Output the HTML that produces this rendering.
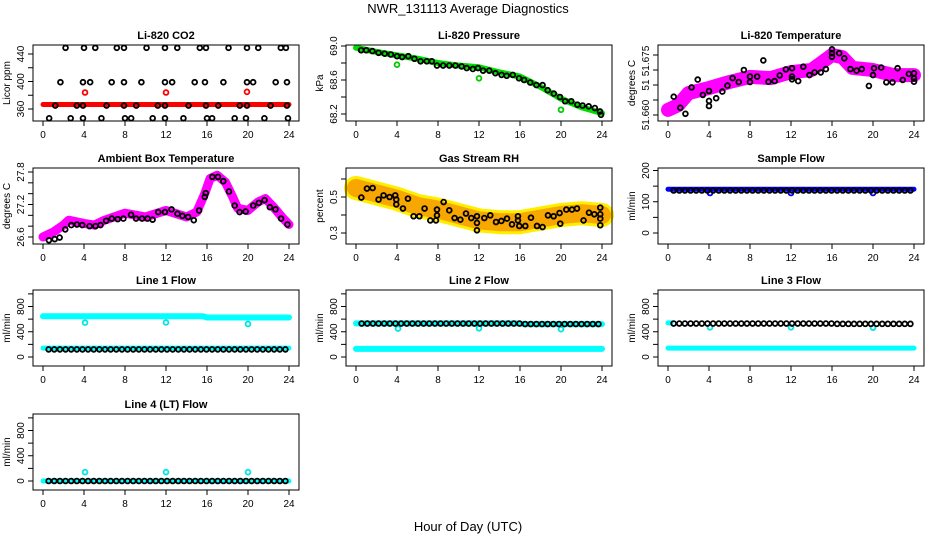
<!DOCTYPE html>
<html><head><meta charset="utf-8"><style>
html,body{margin:0;padding:0;background:#fff}
svg{display:block;font-family:"Liberation Sans",sans-serif}
</style></head><body>
<svg id="chart" width="936" height="540" viewBox="0 0 936 540">
<text x="468" y="13" text-anchor="middle" font-size="13">NWR_131113  Average Diagnostics</text>
<text x="468" y="531" text-anchor="middle" font-size="13">Hour of Day (UTC)</text>
</svg>
<script>
// ---- data ----
const co2TopH=[2.2,4.0,5.1,7.2,7.9,10.1,11.9,13.1,15.3,15.9,18.1,19.9,21.0,23.2,23.7];
const co2TopV=[449,449,449,449,449,449,449,449,449,449,449,449,449,449,449];
const co2MidH=[1.7,3.9,4.6,6.7,7.9,9.6,11.9,12.6,14.8,15.8,17.6,19.9,20.5,22.7,23.8];
const co2MidV=[399,399,399,399,399,399,399,399,399,399,399,399,399,399,399];
const co2LowH=[1.2,3.3,3.9,6.2,7.9,9.1,11.2,11.9,14.2,15.9,17.1,19.2,19.9,22.2,23.8];
const co2LowV=[365,365,365,365,365,365,365,365,365,365,365,365,365,365,365];
const co2BotH=[0.6,2.7,3.9,5.7,8.0,8.6,10.7,11.9,13.7,16.0,16.5,18.7,19.8,21.6,23.9];
const co2BotV=[346.5,346.5,346.5,346.5,346.5,346.5,346.5,346.5,346.5,346.5,346.5,346.5,346.5,346.5,346.5];
const co2BandH=[0,24];
const co2BandV=[366.5,366.5];
const co2RedH=[4.1,12.0,19.9];
const co2RedV=[384,384,385];

const presBandH=[0,2,4,6,8,10,12,14,16,18,20,22,24];
const presBandV=[68.98,68.93,68.89,68.85,68.80,68.77,68.75,68.69,68.64,68.52,68.38,68.28,68.21];
const presOutH=[4.0,12.0,20.0];
const presOutV=[68.78,68.62,68.25];
const presBlkH=[0.5,1,1.6,2.2,2.8,3.4,4,4.5,5.1,5.7,6.3,6.9,7.4,7.9,8.5,9.1,9.7,10.3,10.8,11.4,11.9,12.4,13,13.6,14.2,14.7,15.3,15.9,16.4,17,17.6,18.2,18.7,19.3,19.9,20.4,21,21.6,22.1,22.7,23.3,23.8,23.9];
const presBlkV=[68.95,68.95,68.94,68.92,68.91,68.9,68.88,68.87,68.88,68.85,68.82,68.82,68.82,68.77,68.77,68.77,68.77,68.76,68.74,68.73,68.74,68.71,68.71,68.68,68.66,68.65,68.66,68.62,68.6,68.57,68.54,68.54,68.48,68.44,68.4,68.35,68.35,68.31,68.3,68.29,68.27,68.23,68.19];

const tempBandH=[0,1,2,4,6,8,10,12,14,16,17,18,20,22,24];
const tempBandV=[51.6617,51.6633,51.6673,51.669,51.671,51.6727,51.6723,51.6743,51.675,51.68,51.6793,51.6757,51.675,51.6733,51.6733];
const tempBlkH=[0.56,1.2,1.7,2.3,2.9,3.4,4.0,4.0,4.0,4.7,5.3,5.8,6.3,6.9,7.4,8,8,8.7,9.3,9.8,10.4,10.9,11.5,12.1,12.1,12.1,12.7,13.2,13.8,14.3,14.9,15.4,16,16,16,16.7,17.2,17.8,18.4,18.9,19.6,20,20.1,20.8,21.3,21.9,22.4,22.9,23.5,24,24,24];
const tempBlkV=[51.6661,51.6624,51.6604,51.6692,51.6718,51.6667,51.668,51.6647,51.663,51.6656,51.6678,51.6698,51.6723,51.671,51.675,51.6728,51.671,51.6728,51.6782,51.6711,51.6713,51.6732,51.6752,51.6756,51.6728,51.6719,51.6713,51.6761,51.6733,51.6742,51.6742,51.6753,51.6819,51.6806,51.6794,51.6806,51.6789,51.6753,51.6748,51.6753,51.6697,51.6733,51.6756,51.6758,51.6709,51.6709,51.6756,51.6717,51.6737,51.6739,51.6711,51.6722];

const ambBandH=[0,1,2,2.5,4,5,6,8,10,12,14,15,15.8,16.3,17,17.8,18.5,19,20,21,21.7,22.5,23.3,24];
const ambBandV=[26.6,26.69,26.82,26.91,26.85,26.82,26.91,27.04,26.97,27.09,26.97,27.06,27.41,27.68,27.74,27.61,27.34,27.13,27.09,27.25,27.31,27.15,26.97,26.83];
const ambBlkH=[0.58,1.14,1.62,2.17,2.76,3.31,3.83,4.54,5.12,5.61,6.16,6.71,7.29,7.84,8.59,9.08,9.66,10.2,10.69,11.24,11.9,12.54,13.12,13.6,14.16,14.71,15.23,15.78,15.88,16.52,17.07,17.59,18.14,18.7,19.18,19.77,20.51,21.06,21.61,22.13,22.68,23.23,23.85];
const ambBlkV=[26.54,26.56,26.59,26.74,26.82,26.83,26.82,26.8,26.8,26.82,26.9,26.94,26.93,26.94,27.01,26.94,26.94,26.94,26.92,27.06,27.06,27.11,27.03,26.99,26.97,26.91,27.09,27.34,27.41,27.71,27.71,27.63,27.44,27.18,27.06,27.07,27.18,27.23,27.28,27.15,27.11,26.94,26.83];

const rhBandH=[0,2,4,6,8,10,12,14,16,18,20,22,24];
const rhBandV=[0.55,0.52,0.49,0.45,0.43,0.40,0.37,0.36,0.36,0.38,0.40,0.41,0.40];
const rhBlkH=[0.52,1.07,1.62,2.2,2.69,3.28,3.83,3.93,3.93,4.58,5.07,5.62,6.18,6.69,7.25,7.8,7.9,7.9,8.55,9.1,9.62,10.18,10.73,11.25,11.8,11.8,11.8,12.52,13.1,13.66,14.18,14.73,15.22,15.8,15.8,15.93,16.52,17.07,17.66,18.2,18.73,19.28,19.86,19.93,20.52,21.07,21.56,22.2,22.73,23.25,23.83,23.83,23.83,23.83];
const rhBlkV=[0.497,0.547,0.55,0.486,0.509,0.5,0.509,0.486,0.459,0.436,0.491,0.393,0.393,0.436,0.37,0.37,0.43,0.398,0.472,0.426,0.383,0.374,0.408,0.383,0.393,0.356,0.315,0.383,0.398,0.361,0.367,0.38,0.348,0.393,0.37,0.339,0.339,0.385,0.339,0.333,0.398,0.393,0.411,0.352,0.43,0.43,0.436,0.37,0.413,0.404,0.441,0.404,0.38,0.343];

const flowH=[0.55,1.1,1.65,2.2,2.75,3.3,3.85,4.4,4.95,5.5,6.05,6.6,7.15,7.7,8.25,8.8,9.35,9.9,10.45,11.0,11.55,12.1,12.65,13.2,13.75,14.3,14.85,15.4,15.95,16.5,17.05,17.6,18.15,18.7,19.25,19.8,20.35,20.9,21.45,22.0,22.55,23.1,23.65];
const sampleBlkV=[136,136,136,136,136,136,136,136,136,136,136,136,136,136,136,136,136,136,136,136,136,136,136,136,136,136,136,136,136,136,136,136,136,136,136,136,136,136,136,136,136,136,136];
const sampleBandH=[0,24];
const sampleBandV=[140,140];
const sampleDipH=[4.1,12.0,20.0];
const sampleDipV=[128,128,128];

const line1BlkV=[120,120,120,120,120,120,120,120,120,120,120,120,120,120,120,120,120,120,120,120,120,120,120,120,120,120,120,120,120,120,120,120,120,120,120,120,120,120,120,120,120,120,120];
const line1UpH=[0,15.6,16,24];
const line1UpV=[645,645,625,625];
const line1LowH=[0,24];
const line1LowV=[140,140];
const line1OutH=[4.1,12.0,20.0];
const line1OutV=[545,547,523];

const line2BlkV=[530,530,530,530,530,530,530,530,530,530,530,530,530,530,530,530,530,530,530,530,530,530,530,530,530,530,530,530,530,522,522,522,522,522,522,522,522,522,522,522,522,522,522];
const line2UpH=[0,16,16.5,24];
const line2UpV=[532,532,520,520];
const line2LowH=[0,24];
const line2LowV=[128,128];
const line2OutH=[4.1,12.0,20.0];
const line2OutV=[450,455,440];

const line3BlkV=[530,530,530,530,530,530,530,530,530,530,530,530,530,530,530,530,530,530,530,530,530,530,530,530,530,530,530,530,530,525,525,525,525,525,525,525,525,525,525,525,525,525,525];
const line3UpH=[0,0.3];
const line3UpV=[540,540];
const line3LowH=[0,24];
const line3LowV=[140,140];
const line3OutH=[4.1,12.0,20.0];
const line3OutV=[470,470,465];

const line4BlkV=[0,0,0,0,0,0,0,0,0,0,0,0,0,0,0,0,0,0,0,0,0,0,0,0,0,0,0,0,0,0,0,0,0,0,0,0,0,0,0,0,0,0,0];
const line4LowH=[0,24];
const line4LowV=[0,0];
const line4OutH=[4.1,12.0,20.0];
const line4OutV=[140,140,140];

const xTicks=[0,4,8,12,16,20,24];
const flowTicks=[0,200,400,600,800,1000];
const flowLabels=["0","","400","","800",""];

// ---- drawing ----
const NS="http://www.w3.org/2000/svg";
const svg=document.getElementById('chart');
function mk(tag,attrs,parent){const e=document.createElementNS(NS,tag);for(const k in attrs)e.setAttribute(k,attrs[k]);(parent||svg).appendChild(e);return e;}

function panel(p){
  const g=mk('g',{});
  
  
  const L=p.left,T=p.top,R=L+266,B=T+76;
  const x0=L+10,xk=10.25;
  const xs=h=>x0+h*xk;
  const ys=v=>p.ya[1]+(v-p.ya[0])*(p.yb[1]-p.ya[1])/(p.yb[0]-p.ya[0]);
  p.draw(g,xs,ys);
  const box=mk('rect',{x:L,y:T,width:R-L,height:B-T,fill:'none',stroke:'#000','stroke-width':1},g);
  
  
  const t=mk('text',{x:(L+R)/2,y:T-6,'text-anchor':'middle','font-size':11,'font-weight':'bold'},g);
  t.textContent=p.title;
  
  
  xTicks.forEach(h=>{
    mk('line',{x1:xs(h),x2:xs(h),y1:B,y2:B+5,stroke:'#000'},g);
    const tl=mk('text',{x:xs(h),y:B+17,'text-anchor':'middle','font-size':10},g);
    tl.textContent=h;
    
    
  });
  mk('line',{x1:xs(0),x2:xs(24),y1:B,y2:B,stroke:'#000'},g);
  p.yt.forEach((v,i)=>{
    const y=ys(v);
    mk('line',{x1:L-5,x2:L,y1:y,y2:y,stroke:'#000'},g);
    const lab=p.yl[i];
    if(lab){
      const yy=p.ylpos&&p.ylpos[i]!=null?p.ylpos[i]:y;
      const tl=mk('text',{x:L-9,y:yy,'text-anchor':'middle','font-size':10,transform:`rotate(-90 ${L-9} ${yy})`},g);
      tl.textContent=lab;
      
      
    }
  });
  mk('line',{x1:L,x2:L,y1:ys(p.yt[0]),y2:ys(p.yt[p.yt.length-1]),stroke:'#000'},g);
  const yt=mk('text',{x:L-23,y:(T+B)/2,'text-anchor':'middle','font-size':10,transform:`rotate(-90 ${L-23} ${(T+B)/2})`},g);
  yt.textContent=p.ylab;
  
  
}
function pts(g,H,V,xs,ys,col,name,r,sw){
  H.forEach((h,i)=>{
    const c=mk('circle',{cx:xs(h),cy:ys(V[i]),r:r||2.4,fill:'none',stroke:col,'stroke-width':sw||1.8},g);
    
    
  });
}
function band(g,H,V,xs,ys,col,w,name,op){
  const l=mk('polyline',{points:H.map((h,i)=>xs(h)+','+ys(V[i])).join(' '),fill:'none',stroke:col,'stroke-width':w,'stroke-linecap':'round','stroke-linejoin':'round','stroke-opacity':op||1},g);
  
  
}
const C1=33,C2=346,C3=658, R1=45,R2=168,R3=290,R4=414;

panel({name:'co2-panel',title:'Li-820 CO2',ylab:'Licor ppm',left:C1,top:R1,ya:[360,R1+64],yb:[440,R1+9],
  yt:[360,380,400,420,440],yl:['360','','400','','440'],
  draw:(g,xs,ys)=>{
    band(g,co2BandH,co2BandV,xs,ys,'#ff0000',5,'co2-red-band');
    pts(g,co2TopH,co2TopV,xs,ys,'#000','co2-point');
    pts(g,co2MidH,co2MidV,xs,ys,'#000','co2-point');
    pts(g,co2LowH,co2LowV,xs,ys,'#000','co2-point');
    pts(g,co2BotH,co2BotV,xs,ys,'#000','co2-point');
    pts(g,co2RedH,co2RedV,xs,ys,'#ff0000','co2-red-point');
  }});
panel({name:'pressure-panel',title:'Li-820 Pressure',ylab:'kPa',left:C2,top:R1,ya:[68.2,R1+69],yb:[69.0,R1+1],
  yt:[68.2,68.4,68.6,68.8,69.0],yl:['68.2','','68.6','','69.0'],
  draw:(g,xs,ys)=>{
    band(g,presBandH,presBandV,xs,ys,'#00dd00',6,'pressure-green-band');
    pts(g,presOutH,presOutV,xs,ys,'#00cc00','pressure-green-point');
    pts(g,presBlkH,presBlkV,xs,ys,'#000','pressure-point');
  }});
panel({name:'temperature-panel',title:'Li-820 Temperature',ylab:'degrees C',left:C3,top:R1,ya:[51.660,R1+70],yb:[51.680,R1+10],
  yt:[51.660,51.665,51.670,51.675,51.680],yl:['51.660','','51','51.675',''],ylpos:[null,null,null,R1+16,null],
  draw:(g,xs,ys)=>{
    band(g,tempBandH,tempBandV,xs,ys,'#ff00ff',14,'temperature-magenta-band');
    pts(g,tempBlkH,tempBlkV,xs,ys,'#000','temperature-point');
  }});
panel({name:'ambient-panel',title:'Ambient Box Temperature',ylab:'degrees C',left:C1,top:R2,ya:[26.6,R2+69],yb:[27.8,R2+4],
  yt:[26.6,26.8,27.0,27.2,27.4,27.6,27.8],yl:['26.6','','','27.2','','','27.8'],
  draw:(g,xs,ys)=>{
    band(g,ambBandH,ambBandV,xs,ys,'#ff00ff',9,'ambient-magenta-band');
    pts(g,ambBlkH,ambBlkV,xs,ys,'#000','ambient-point');
  }});
panel({name:'rh-panel',title:'Gas Stream RH',ylab:'percent',left:C2,top:R2,ya:[0.3,R2+65],yb:[0.5,R2+29],
  yt:[0.3,0.4,0.5,0.6],yl:['0.3','','0.5',''],
  draw:(g,xs,ys)=>{
    band(g,rhBandH,rhBandV,xs,ys,'#ffee00',24,'rh-yellow-band');
    band(g,rhBandH,rhBandV,xs,ys,'#f06000',18,'rh-orange-band',0.5);
    pts(g,rhBlkH,rhBlkV,xs,ys,'#000','rh-point');
  }});
panel({name:'sample-flow-panel',title:'Sample Flow',ylab:'ml/min',left:C3,top:R2,ya:[0,R2+65],yb:[200,R2+2.5],
  yt:[0,50,100,150,200],yl:['0','','100','','200'],
  draw:(g,xs,ys)=>{
    band(g,sampleBandH,sampleBandV,xs,ys,'#0000ff',5,'sample-blue-band');
    pts(g,sampleDipH,sampleDipV,xs,ys,'#0000ff','sample-blue-point');
    pts(g,flowH,sampleBlkV,xs,ys,'#000','sample-point');
  }});
const flowY=t=>({ya:[0,t+67],yb:[800,t+16.5]});
panel(Object.assign({name:'line1-flow-panel',title:'Line 1 Flow',ylab:'ml/min',left:C1,top:R3,yt:flowTicks,yl:flowLabels,
  draw:(g,xs,ys)=>{
    band(g,line1UpH,line1UpV,xs,ys,'#00ffff',6,'line1-cyan-upper');
    band(g,line1LowH,line1LowV,xs,ys,'#00ffff',5,'line1-cyan-lower');
    pts(g,line1OutH,line1OutV,xs,ys,'#00e5e5','line1-cyan-point');
    pts(g,flowH,line1BlkV,xs,ys,'#000','line1-point');
  }},flowY(R3)));
panel(Object.assign({name:'line2-flow-panel',title:'Line 2 Flow',ylab:'ml/min',left:C2,top:R3,yt:flowTicks,yl:flowLabels,
  draw:(g,xs,ys)=>{
    band(g,line2UpH,line2UpV,xs,ys,'#00ffff',6,'line2-cyan-upper');
    band(g,line2LowH,line2LowV,xs,ys,'#00ffff',6,'line2-cyan-lower');
    pts(g,line2OutH,line2OutV,xs,ys,'#00e5e5','line2-cyan-point');
    pts(g,flowH,line2BlkV,xs,ys,'#000','line2-point');
  }},flowY(R3)));
panel(Object.assign({name:'line3-flow-panel',title:'Line 3 Flow',ylab:'ml/min',left:C3,top:R3,yt:flowTicks,yl:flowLabels,
  draw:(g,xs,ys)=>{
    band(g,line3UpH,line3UpV,xs,ys,'#00ffff',5,'line3-cyan-upper');
    band(g,line3LowH,line3LowV,xs,ys,'#00ffff',5,'line3-cyan-lower');
    pts(g,line3OutH,line3OutV,xs,ys,'#00e5e5','line3-cyan-point');
    pts(g,flowH,line3BlkV,xs,ys,'#000','line3-point');
  }},flowY(R3)));
panel(Object.assign({name:'line4-flow-panel',title:'Line 4 (LT) Flow',ylab:'ml/min',left:C1,top:R4,yt:flowTicks,yl:flowLabels,
  draw:(g,xs,ys)=>{
    band(g,line4LowH,line4LowV,xs,ys,'#00ffff',5,'line4-cyan-band');
    pts(g,line4OutH,line4OutV,xs,ys,'#00e5e5','line4-cyan-point');
    pts(g,flowH,line4BlkV,xs,ys,'#000','line4-point');
  }},flowY(R4)));
</script>
</body></html>
